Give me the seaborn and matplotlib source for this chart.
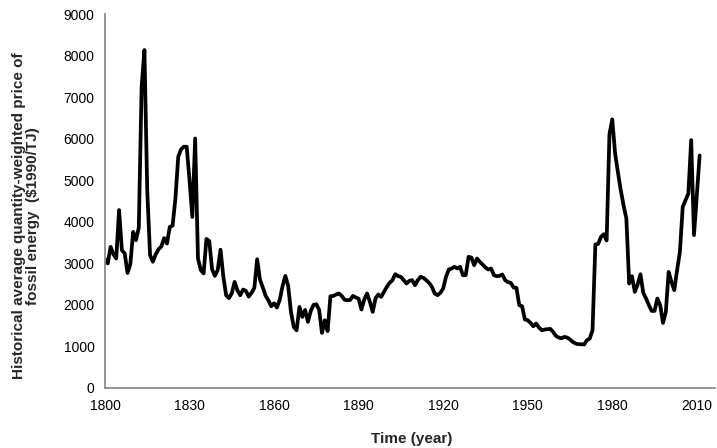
import numpy as np
import pandas as pd
import matplotlib
matplotlib.use("Agg")
import matplotlib.pyplot as plt
import seaborn as sns
from matplotlib.ticker import MultipleLocator

# yearly values, 1800-2011
years = np.arange(1800, 2012)
price = [
    3100, 3000, 3400, 3220, 3120, 4285, 3320, 3240, 2770, 2980,   # 1800s
    3760, 3560, 3860, 7250, 8140, 4750, 3200, 3040, 3220, 3340,   # 1810s
    3410, 3610, 3480, 3880, 3910, 4570, 5570, 5750, 5810, 5810,   # 1820s
    5010, 4120, 6010, 3120, 2840, 2760, 3590, 3540, 2860, 2700,   # 1830s
    2840, 3330, 2680, 2230, 2165, 2280, 2555, 2350, 2234, 2370,   # 1840s
    2340, 2200, 2290, 2410, 3100, 2610, 2420, 2220, 2110, 1969,   # 1850s
    2040, 1937, 2120, 2450, 2700, 2460, 1830, 1470, 1390, 1955,   # 1860s
    1712, 1880, 1591, 1850, 2000, 2018, 1880, 1326, 1631, 1370,   # 1870s
    2210, 2215, 2250, 2275, 2220, 2125, 2114, 2120, 2218, 2180,   # 1880s
    2150, 1890, 2131, 2276, 2074, 1832, 2160, 2252, 2194, 2315,   # 1890s
    2435, 2532, 2597, 2741, 2693, 2677, 2597, 2517, 2580, 2597,   # 1900s
    2476, 2597, 2677, 2652, 2597, 2532, 2435, 2276, 2235, 2291,   # 1910s
    2396, 2677, 2854, 2878, 2918, 2878, 2918, 2717, 2717, 3158,   # 1920s
    3142, 2958, 3118, 3037, 2974, 2902, 2854, 2878, 2717, 2693,   # 1930s
    2700, 2733, 2597, 2550, 2532, 2420, 2411, 1994, 1970, 1649,   # 1940s
    1632, 1567, 1487, 1552, 1456, 1391, 1408, 1415, 1423, 1350,   # 1950s
    1254, 1215, 1198, 1230, 1215, 1167, 1109, 1070, 1054, 1054,   # 1960s
    1046, 1150, 1191, 1391, 3456, 3470, 3640, 3704, 3555, 6110,   # 1970s
    6470, 5650, 5200, 4770, 4400, 4082, 2516, 2692, 2314, 2492,   # 1980s
    2740, 2290, 2154, 1993, 1856, 1856, 2154, 1993, 1567, 1832,   # 1990s
    2796, 2555, 2355, 2837, 3278, 4362, 4524, 4685, 5970, 3680,   # 2000s
    4640, 5600,                                                   # 2010s
]

df = pd.DataFrame({"year": years, "price": price})

sns.set_style("white")
plt.rcParams["font.family"] = ["Liberation Sans", "DejaVu Sans"]

fig = plt.figure(figsize=(7.17, 4.48), dpi=100)
ax = fig.add_axes([0.1464, 0.134, 0.851, 0.834])

sns.lineplot(data=df, x="year", y="price", color="black", linewidth=2.7, ax=ax)

ax.set_xlim(1800, 2016.5)
ax.set_ylim(0, 9000)
ax.xaxis.set_major_locator(MultipleLocator(30))
ax.xaxis.set_minor_locator(MultipleLocator(10))
ax.yaxis.set_major_locator(MultipleLocator(1000))
ax.yaxis.set_minor_locator(MultipleLocator(500))

for side in ["top", "right"]:
    ax.spines[side].set_visible(False)
for side in ["left", "bottom"]:
    ax.spines[side].set_color("#8c8c8c")
    ax.spines[side].set_linewidth(1.3)

ax.tick_params(which="both", direction="out", colors="#8c8c8c", labelcolor="black",
               labelsize=10)
ax.tick_params(which="major", length=4, width=1.2)
ax.tick_params(which="minor", length=3, width=1.0)
ax.tick_params(axis="x", pad=4)

ax.set_xlabel("Time (year)", fontsize=11, fontweight="bold")
ax.xaxis.set_label_coords(0.503, -0.117)
ax.set_ylabel("Historical average quantity-weighted price of\nfossil energy  ($1990/TJ)",
              fontsize=11, fontweight="bold", linespacing=1.05)
ax.yaxis.set_label_coords(-0.106, 0.46)

fig.savefig("out.png", dpi=100)
